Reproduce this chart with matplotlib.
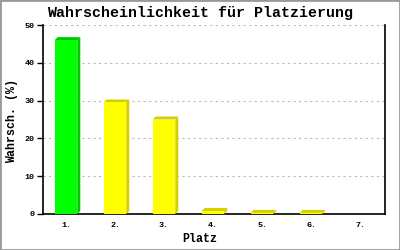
import matplotlib
matplotlib.use("Agg")
import matplotlib.pyplot as plt
from matplotlib.patches import Polygon, Rectangle

# --- data ---
places = ["1.", "2.", "3.", "4.", "5.", "6.", "7."]
probs = [46.0, 29.5, 25.0, 0.8, 0.3, 0.3, 0.0]
front_colors = ["#00ff00", "#ffff00", "#ffff00", "#ffff00", "#ffff00", "#ffff00", "#ffff00"]
side_colors = ["#00c800", "#d4d000", "#d4d000", "#d4d000", "#d4d000", "#d4d000", "#d4d000"]
yticks = [0, 10, 20, 30, 40, 50]

mono = "Liberation Mono"

fig = plt.figure(figsize=(4, 2.5), dpi=100)
ax = fig.add_axes([43 / 400, 36 / 250, 342 / 400, 189 / 250])

xlim = (-0.47, 6.51)
ylim = (0, 50)
ax.set_xlim(*xlim)
ax.set_ylim(*ylim)

# 3d offset in data units (3 px)
ax_w_px = 342
ax_h_px = 189
dx = 3 * (xlim[1] - xlim[0]) / ax_w_px
dy = 3 * (ylim[1] - ylim[0]) / ax_h_px

width = 0.46
for i, (v, fc, sc) in enumerate(zip(probs, front_colors, side_colors)):
    if v <= 0:
        continue
    x0 = i - width / 2
    x1 = i + width / 2
    side = Polygon([(x1, 0), (x1, v), (x1 + dx, v + dy), (x1 + dx, dy)],
                   closed=True, facecolor=sc, edgecolor="none", zorder=3)
    top = Polygon([(x0, v), (x1, v), (x1 + dx, v + dy), (x0 + dx, v + dy)],
                  closed=True, facecolor=sc, edgecolor="none", zorder=3)
    ax.add_patch(side)
    ax.add_patch(top)
    ax.add_patch(Rectangle((x0, 0), width, v, facecolor=fc, edgecolor="none", zorder=4))

ax.set_xticks(range(len(places)))
ax.set_xticklabels(places, fontfamily=mono, fontsize=6, fontweight="bold")
ax.set_yticks(yticks)
ax.set_yticklabels([str(t) for t in yticks], fontfamily=mono, fontsize=6, fontweight="bold")
ax.tick_params(axis="x", length=0, pad=6)
ax.tick_params(axis="y", length=4, width=1, direction="out", pad=2)

for t in yticks[1:]:
    ax.axhline(t, color="#bbbbbb", linestyle=(0, (2, 3)), linewidth=0.8, zorder=1)

ax.spines["top"].set_visible(False)
for s in ["left", "right", "bottom"]:
    ax.spines[s].set_linewidth(1.2)
    ax.spines[s].set_color("black")

fig.text(0.5, 1 - 13 / 250, "Wahrscheinlichkeit für Platzierung", ha="center", va="center",
         fontfamily=mono, fontsize=10.8, fontweight="bold")
fig.text(0.5, 1 - 239 / 250, "Platz", ha="center", va="center",
         fontfamily=mono, fontsize=8.4, fontweight="bold")
fig.text(12 / 400, 1 - 121 / 250, "Wahrsch. (%)", ha="center", va="center", rotation=90,
         fontfamily=mono, fontsize=8.4, fontweight="bold")

fig.patches.append(Rectangle((0, 0), 1, 1, transform=fig.transFigure, fill=False,
                             edgecolor="#999999", linewidth=2))

fig.savefig("out.png", dpi=100)
